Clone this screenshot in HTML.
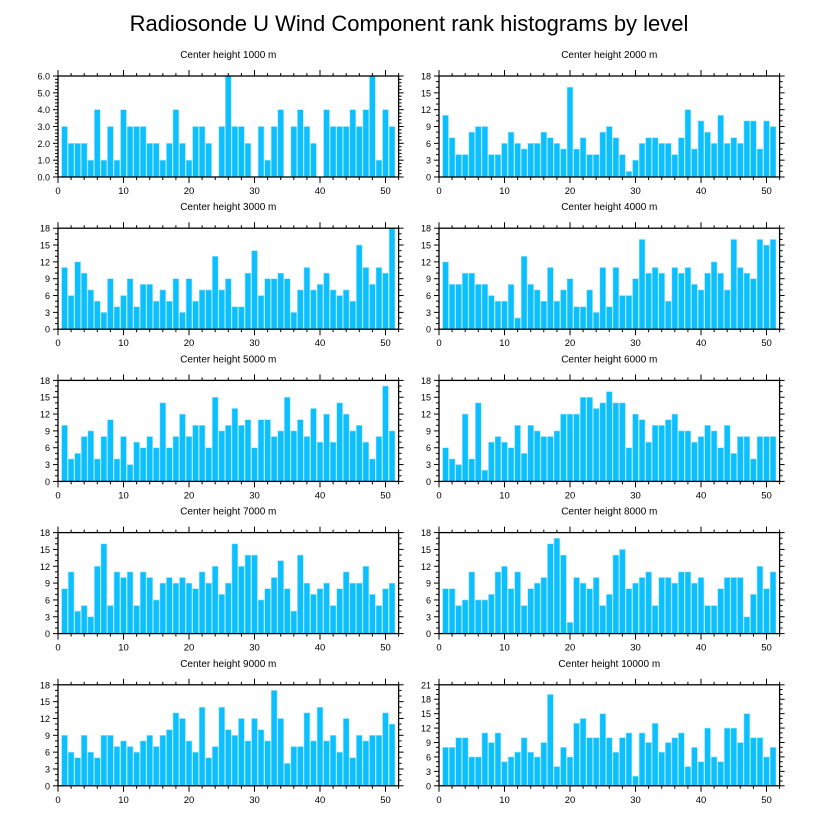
<!DOCTYPE html>
<html><head><meta charset="utf-8"><style>
body{margin:0;background:#fff;}
svg text{font-family:"Liberation Sans",sans-serif;fill:#000;}
</style></head><body>
<svg id="chart" width="818" height="824" xmlns="http://www.w3.org/2000/svg">
<text x="409" y="31" font-size="22" text-anchor="middle">Radiosonde U Wind Component rank histograms by level</text>
</svg>
<script>
const levels = ["1000","2000","3000","4000","5000","6000","7000","8000","9000","10000"];
const yMaxes = [6,18,18,18,18,18,18,18,18,21];
const yStep = [1,3,3,3,3,3,3,3,3,3];
const h1000 = [3,2,2,2,1,4,1,3,1,4,3,3,3,2,2,1,2,4,2,1,3,3,2,0,3,6,3,3,2,0,3,1,3,4,0,3,4,3,2,0,4,3,3,3,4,3,4,6,1,4,3];
const h2000 = [11,7,4,4,8,9,9,4,4,6,8,6,5,6,6,8,7,6,5,16,5,7,4,4,8,9,7,4,1,3,6,7,7,6,6,4,7,12,5,10,8,6,11,6,7,6,10,10,5,10,9];
const h3000 = [11,6,12,10,7,5,3,9,4,6,9,4,8,8,5,7,5,9,3,9,5,7,7,13,7,9,4,4,10,14,6,9,9,10,9,3,7,11,7,8,10,7,6,7,5,15,11,8,11,10,18];
const h4000 = [12,8,8,10,10,8,8,6,5,5,8,2,13,8,7,5,11,5,7,9,4,4,7,3,11,4,11,6,6,9,16,10,11,10,5,11,10,11,8,7,10,12,10,7,16,11,10,9,16,15,16];
const h5000 = [10,4,5,8,9,4,8,11,4,8,3,7,6,8,6,14,6,8,12,8,10,10,6,15,9,10,13,10,11,6,11,11,8,9,15,9,11,8,13,7,12,7,14,12,9,10,7,4,8,17,9];
const h6000 = [6,4,3,12,4,14,2,7,8,7,6,10,5,10,9,8,8,9,12,12,12,15,15,13,14,16,14,14,6,12,11,7,10,10,11,12,9,9,7,8,10,9,6,10,5,8,8,4,8,8,8];
const h7000 = [8,11,4,5,3,12,16,5,11,10,11,5,11,10,6,9,10,9,10,9,8,11,9,12,7,9,16,12,14,14,6,8,10,13,8,4,14,9,7,8,9,5,8,11,9,9,12,7,5,8,9];
const h8000 = [8,8,5,6,11,6,6,7,11,12,8,11,5,8,9,10,16,17,14,2,10,9,8,10,5,7,14,15,8,9,10,11,5,10,10,9,11,11,9,10,5,5,8,10,10,10,3,7,12,8,11];
const h9000 = [9,6,5,9,6,5,9,9,7,8,7,6,8,9,7,9,10,13,12,8,6,14,5,7,14,10,9,12,8,12,10,8,17,12,4,7,7,13,8,14,8,9,6,12,5,9,8,9,9,13,11];
const h10000 = [8,8,10,10,6,6,11,9,11,5,6,7,10,7,6,9,19,4,8,6,13,14,10,10,15,10,7,10,11,2,11,9,13,7,9,10,11,4,8,5,12,6,5,12,12,9,15,10,10,6,8];
const series = [h1000,h2000,h3000,h4000,h5000,h6000,h7000,h8000,h9000,h10000];
const xTicks = [0,10,20,30,40,50];

const NS="http://www.w3.org/2000/svg";
const svg=document.getElementById('chart');
function mk(tag,attrs,parent){const e=document.createElementNS(NS,tag);for(const k in attrs)e.setAttribute(k,attrs[k]);(parent||svg).appendChild(e);return e;}
const unit=6.55, W=52*unit, H=101;
series.forEach((vals,p)=>{
  const col=p%2,row=Math.floor(p/2);
  const x0=col?439:58, y0=76+row*152.2;
  const g=mk('g',{});
  
  
  const xs=v=>x0+v*unit;
  const ys=v=>y0+H-v/yMaxes[p]*H;
  const t=mk('text',{x:x0+W/2,y:y0-18,'font-size':10,'text-anchor':'middle'},g);
  t.textContent='Center height '+levels[p]+' m';
  
  
  vals.forEach((v,i)=>{
    if(v<=0)return;
    const b=mk('rect',{x:xs(i+1-0.45),y:ys(v),width:0.9*unit,height:ys(0)-ys(v),fill:'#0cbfff',stroke:'#a8e6ff','stroke-width':0.6},g);
    
    
  });
  const frame=mk('rect',{x:x0,y:y0,width:W,height:H,fill:'none',stroke:'#000','stroke-width':1.3},g);
  
  
  for(let v=0;v<=52;v+=2){
    const L=(v%10===0)?6:3;
    mk('line',{x1:xs(v),x2:xs(v),y1:y0+H,y2:y0+H+L,stroke:'#000','stroke-width':1},g);
    mk('line',{x1:xs(v),x2:xs(v),y1:y0,y2:y0-L,stroke:'#000','stroke-width':1},g);
  }
  xTicks.forEach(v=>{
    const l=mk('text',{x:xs(v),y:y0+H+17,'font-size':9.5,'text-anchor':'middle'},g);
    l.textContent=v;
    
    
  });
  const minor=yStep[p]/ (p===0?5:3);
  for(let k=0;k<=Math.round(yMaxes[p]/minor);k++){
    const v=k*minor;
    const major=Math.abs(v/yStep[p]-Math.round(v/yStep[p]))<1e-6;
    const L=major?5:3;
    mk('line',{x1:x0,x2:x0-L,y1:ys(v),y2:ys(v),stroke:'#000','stroke-width':1},g);
    mk('line',{x1:x0+W,x2:x0+W+L,y1:ys(v),y2:ys(v),stroke:'#000','stroke-width':1},g);
  }
  for(let v=0;v<=yMaxes[p]+1e-9;v+=yStep[p]){
    const l=mk('text',{x:x0-8,y:ys(v)+3.5,'font-size':9,'text-anchor':'end'},g);
    l.textContent=p===0?v.toFixed(1):v;
    
    
  }
});
</script>
</body></html>
